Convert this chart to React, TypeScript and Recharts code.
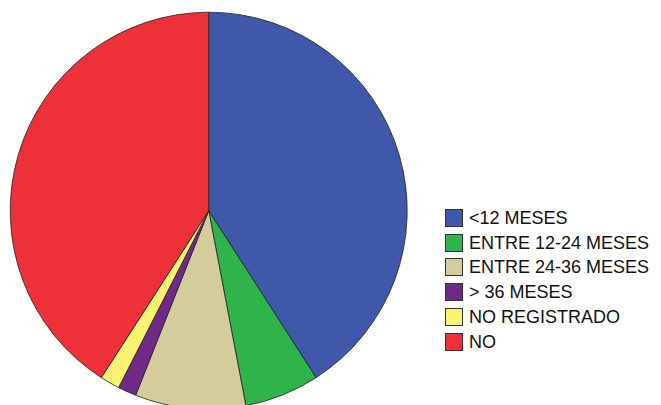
import { Cell, Legend, Pie, PieChart } from 'recharts'

const categories = [
  '<12 MESES',
  'ENTRE 12-24 MESES',
  'ENTRE 24-36 MESES',
  '> 36 MESES',
  'NO REGISTRADO',
  'NO',
]
const values = [40.9, 6.1, 9.0, 1.5, 1.6, 40.9]
const colors = ['#3f58aa', '#2fb44b', '#d4cd9b', '#6f2a88', '#faf271', '#ee3039']

const data = categories.map((name, i) => ({ name, value: values[i] }))

function LegendBox() {
  return (
    <div style={{ fontFamily: '"Liberation Sans", Arial, sans-serif', fontSize: 18, color: '#111' }}>
      {categories.map((name, i) => (
        <div key={name} style={{ display: 'flex', alignItems: 'center', height: 24.8 }}>
          <span
            style={{
              display: 'inline-block',
              width: 16,
              height: 16,
              background: colors[i],
              border: '1px solid #333',
              marginRight: 6,
            }}
          />
          <span style={{ whiteSpace: 'nowrap', lineHeight: '18px' }}>{name}</span>
        </div>
      ))}
    </div>
  )
}

export default function App() {
  return (
    <div style={{ position: 'absolute', left: 0, top: 0, width: 661, height: 405, background: '#fff' }}>
      <PieChart width={661} height={405} margin={{ top: 0, right: 0, bottom: 0, left: 0 }}>
        <Pie
          data={data}
          dataKey="value"
          nameKey="name"
          cx={208.7}
          cy={210.7}
          outerRadius={198.5}
          startAngle={90}
          endAngle={-270}
          stroke="#222"
          strokeWidth={0.8}
          isAnimationActive={false}
        >
          {data.map((d, i) => (
            <Cell key={d.name} fill={colors[i]} />
          ))}
        </Pie>
        <Legend
          layout="vertical"
          content={() => <LegendBox />}
          wrapperStyle={{ position: 'absolute', left: 445, top: 205.4, width: 216 }}
        />
      </PieChart>
    </div>
  )
}
